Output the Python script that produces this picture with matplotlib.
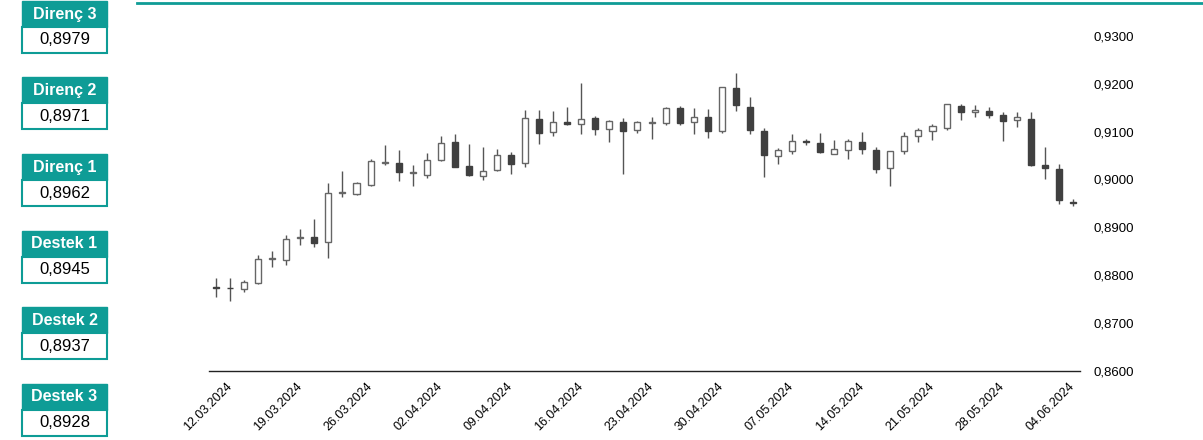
import numpy as np
import matplotlib
matplotlib.use("Agg")
import matplotlib.pyplot as plt
from matplotlib.patches import Rectangle
from matplotlib.lines import Line2D

plt.rcParams["font.family"] = ["Liberation Sans", "DejaVu Sans"]

# daily OHLC, 11.03.2024 - 04.06.2024
opens = [0.8775, 0.8773, 0.8770, 0.8783, 0.8834, 0.8832, 0.8877, 0.8879, 0.8868, 0.8972,
         0.8970, 0.8989, 0.9035, 0.9035, 0.9014, 0.9010, 0.9041, 0.9078, 0.9027, 0.9006,
         0.9020, 0.9052, 0.9034, 0.9127, 0.9099, 0.9121, 0.9115, 0.9128, 0.9106, 0.9121,
         0.9104, 0.9117, 0.9117, 0.9150, 0.9121, 0.9131, 0.9101, 0.9192, 0.9152, 0.9102,
         0.9048, 0.9060, 0.9081, 0.9076, 0.9053, 0.9062, 0.9079, 0.9062, 0.9023, 0.9060,
         0.9090, 0.9102, 0.9107, 0.9153, 0.9140, 0.9143, 0.9135, 0.9125, 0.9127, 0.9030,
         0.9022, 0.8953]
highs = [0.8794, 0.8794, 0.8790, 0.8841, 0.8851, 0.8884, 0.8896, 0.8917, 0.8992, 0.9018,
         0.8994, 0.9043, 0.9071, 0.9062, 0.9029, 0.9055, 0.9090, 0.9095, 0.9073, 0.9067,
         0.9064, 0.9058, 0.9146, 0.9146, 0.9144, 0.9151, 0.9201, 0.9132, 0.9125, 0.9129,
         0.9123, 0.9131, 0.9152, 0.9154, 0.9149, 0.9148, 0.9194, 0.9223, 0.9172, 0.9107,
         0.9066, 0.9094, 0.9085, 0.9097, 0.9083, 0.9085, 0.9100, 0.9067, 0.9060, 0.9100,
         0.9108, 0.9115, 0.9158, 0.9157, 0.9156, 0.9152, 0.9142, 0.9142, 0.9141, 0.9067,
         0.9033, 0.8959]
lows = [0.8753, 0.8745, 0.8764, 0.8780, 0.8816, 0.8820, 0.8863, 0.8858, 0.8836, 0.8963,
        0.8968, 0.8986, 0.9031, 0.8996, 0.8986, 0.9003, 0.9038, 0.9025, 0.9006, 0.8998,
        0.9017, 0.9012, 0.9025, 0.9073, 0.9090, 0.9113, 0.9095, 0.9092, 0.9078, 0.9012,
        0.9097, 0.9085, 0.9113, 0.9113, 0.9095, 0.9087, 0.9097, 0.9144, 0.9095, 0.9004,
        0.9032, 0.9053, 0.9071, 0.9055, 0.9053, 0.9043, 0.9053, 0.9014, 0.8986, 0.9053,
        0.9078, 0.9083, 0.9104, 0.9125, 0.9130, 0.9129, 0.9081, 0.9109, 0.9027, 0.9001,
        0.8949, 0.8945]
closes = [0.8773, 0.8772, 0.8786, 0.8834, 0.8836, 0.8875, 0.8879, 0.8866, 0.8971, 0.8974,
          0.8993, 0.9039, 0.9037, 0.9015, 0.9016, 0.9041, 0.9076, 0.9025, 0.9010, 0.9018,
          0.9050, 0.9033, 0.9128, 0.9097, 0.9120, 0.9115, 0.9127, 0.9106, 0.9123, 0.9102,
          0.9120, 0.9119, 0.9150, 0.9118, 0.9130, 0.9102, 0.9194, 0.9156, 0.9104, 0.9050,
          0.9062, 0.9081, 0.9079, 0.9057, 0.9063, 0.9081, 0.9064, 0.9021, 0.9060, 0.9090,
          0.9104, 0.9111, 0.9158, 0.9140, 0.9146, 0.9135, 0.9122, 0.9131, 0.9030, 0.9024,
          0.8956, 0.8951]

tick_labels = ["12.03.2024", "19.03.2024", "26.03.2024", "02.04.2024", "09.04.2024",
               "16.04.2024", "23.04.2024", "30.04.2024", "07.05.2024", "14.05.2024",
               "21.05.2024", "28.05.2024", "04.06.2024"]
y_ticks = [0.86, 0.87, 0.88, 0.89, 0.90, 0.91, 0.92, 0.93]

level_names = ["Direnç 3", "Direnç 2", "Direnç 1", "Destek 1", "Destek 2", "Destek 3"]
level_values = ["0,8979", "0,8971", "0,8962", "0,8945", "0,8937", "0,8928"]

teal = "#0E9C96"
W, H = 1203, 440

fig = plt.figure(figsize=(W / 100, H / 100), dpi=100)
ax = fig.add_axes([209 / W, 1 - 370.5 / H, (1080 - 209) / W, (370.5 - 36) / H])

o = np.array(opens)
c = np.array(closes)
x = np.arange(len(o))
up = c > o

# wicks
ax.vlines(x, lows, highs, color="#555555", lw=1, zorder=1)
# bodies
bottom = np.minimum(o, c)
height = np.maximum(np.abs(c - o), 0.00005)
ax.bar(x[up], height[up], bottom=bottom[up], width=0.43,
       color="white", edgecolor="#666666", linewidth=1, zorder=2)
ax.bar(x[~up], height[~up], bottom=bottom[~up], width=0.43,
       color="#404040", edgecolor="#404040", linewidth=1, zorder=2)

ax.set_xlim(-0.5, 61.5)
ax.set_ylim(0.86, 0.93)
ax.set_yticks(y_ticks)
ax.set_yticklabels([f"{v:.4f}".replace(".", ",") for v in y_ticks])
ax.yaxis.tick_right()
ax.tick_params(axis="y", length=0, pad=10, labelsize=9.5)
ax.set_xticks(np.arange(1, len(o), 5))
ax.set_xticklabels(tick_labels, rotation=45, ha="right", va="center",
                   rotation_mode="anchor", fontsize=9)
ax.tick_params(axis="x", length=0, pad=10)
for s in ["top", "left", "right"]:
    ax.spines[s].set_visible(False)
ax.spines["bottom"].set_color("#222222")
ax.spines["bottom"].set_linewidth(1)

# teal line at the top
fig.add_artist(Line2D([137 / W, 1], [1 - 3 / H, 1 - 3 / H], color=teal, lw=2))

# support / resistance boxes
box_l, box_w = 22, 85
for i, (name, val) in enumerate(zip(level_names, level_values)):
    top = 1 + i * 76.5
    hy = 1 - (top + 26) / H
    fig.add_artist(Rectangle((box_l / W, hy), box_w / W, 26 / H,
                             transform=fig.transFigure, facecolor=teal, edgecolor=teal, lw=1))
    vy = 1 - (top + 52) / H
    fig.add_artist(Rectangle((box_l / W, vy), box_w / W, 26 / H,
                             transform=fig.transFigure, facecolor="white", edgecolor=teal, lw=1.5))
    fig.text((box_l + box_w / 2) / W, hy + 13 / H, name, color="white", fontsize=11.5,
             fontweight="bold", ha="center", va="center")
    fig.text((box_l + box_w / 2) / W, vy + 13 / H, val, color="black", fontsize=12,
             ha="center", va="center")

fig.savefig("out.png", dpi=100)
